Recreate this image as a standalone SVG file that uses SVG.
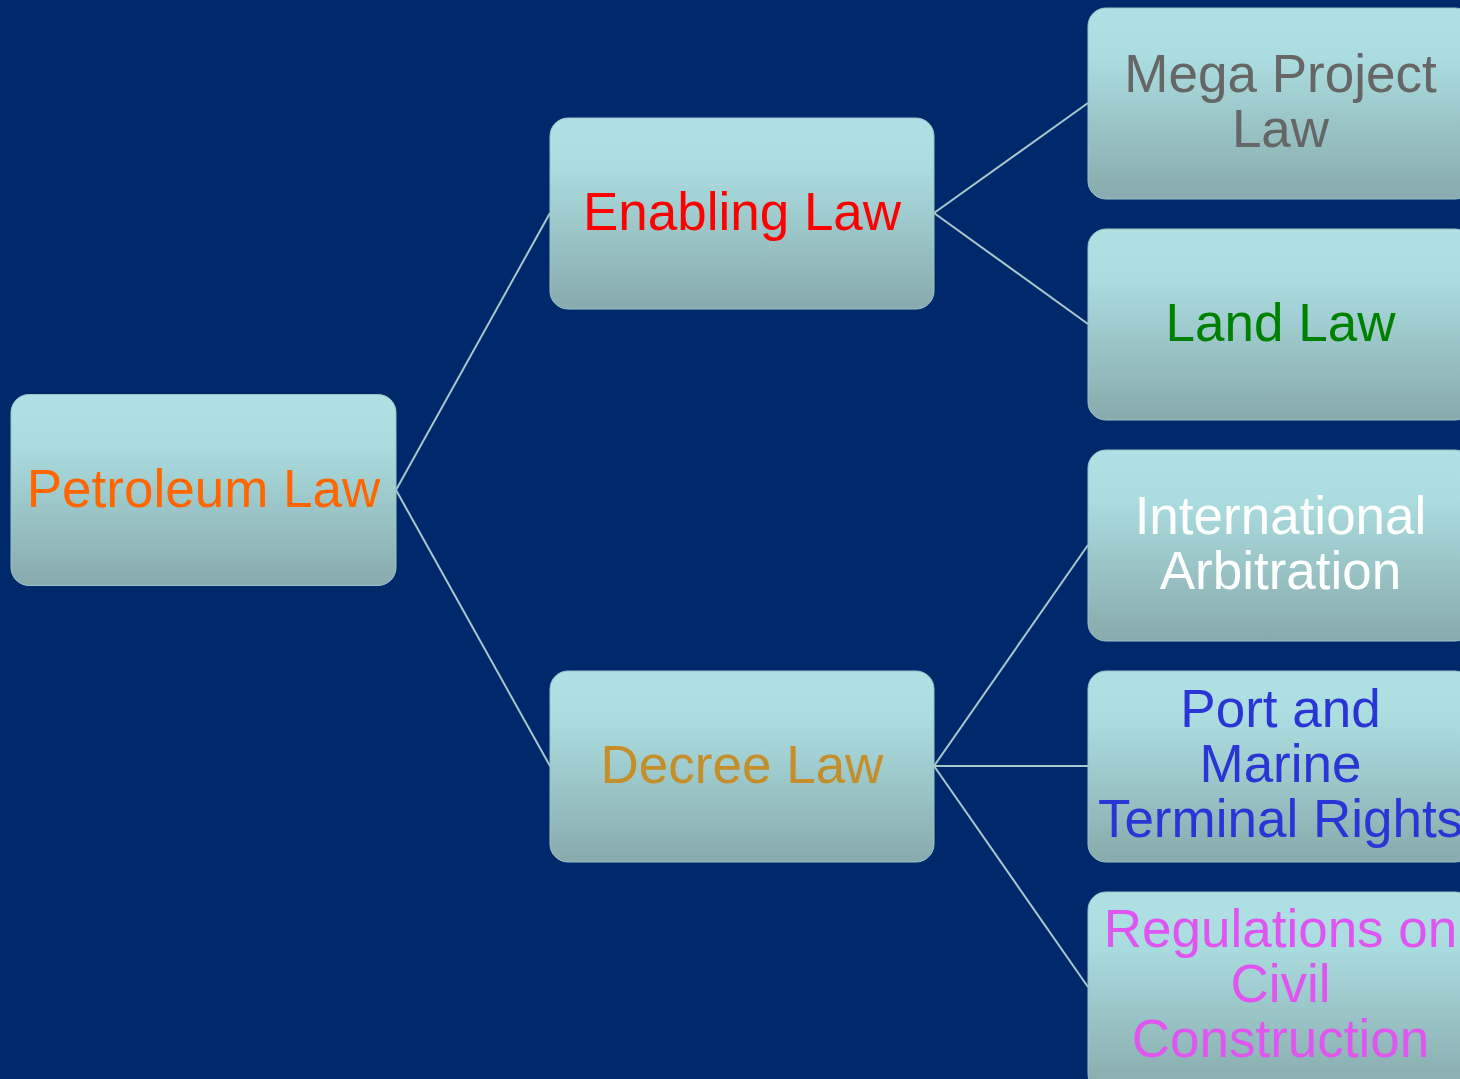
<svg xmlns="http://www.w3.org/2000/svg" width="1460" height="1079" viewBox="0 0 1460 1079">
<defs>
<linearGradient id="nodeFill" x1="0" y1="0" x2="0" y2="1">
<stop offset="0" stop-color="#B0E0E4"/>
<stop offset="0.25" stop-color="#ABDDE0"/>
<stop offset="1" stop-color="#88AAAC"/>
</linearGradient>
<style>
.node rect { fill: url(#nodeFill); stroke: #9CC4C8; stroke-width: 1; }
.node text { font-family: "Liberation Sans", Arial, sans-serif; font-size: 53px; text-anchor: middle; }
.conn line { stroke: #A8C8CC; stroke-width: 2; }
</style>
</defs>
<rect width="1460" height="1079" fill="#00296B"/>
<g id="connectors" class="conn">
<line x1="396" y1="490" x2="550" y2="213"/>
<line x1="396" y1="490" x2="550" y2="766"/>
<line x1="934" y1="213" x2="1088" y2="103"/>
<line x1="934" y1="213" x2="1088" y2="324"/>
<line x1="934" y1="766" x2="1088" y2="545"/>
<line x1="934" y1="766" x2="1088" y2="766"/>
<line x1="934" y1="766" x2="1088" y2="987"/>
</g>
<g id="petroleum-law" class="node">
<rect x="11" y="394.5" width="385" height="191" rx="18"/>
<text x="203.5" y="507" fill="#FF6600">Petroleum Law</text>
</g>
<g id="enabling-law" class="node">
<rect x="550" y="118" width="384" height="191" rx="18"/>
<text x="742" y="230" fill="#FF0000">Enabling Law</text>
</g>
<g id="decree-law" class="node">
<rect x="550" y="671" width="384" height="191" rx="18"/>
<text x="742" y="783" fill="#C48F2A">Decree Law</text>
</g>
<g id="mega-project-law" class="node">
<rect x="1088" y="8" width="385" height="191" rx="18"/>
<text x="1280.5" y="92" fill="#666666">Mega Project</text>
<text x="1280.5" y="147" fill="#666666">Law</text>
</g>
<g id="land-law" class="node">
<rect x="1088" y="229" width="385" height="191" rx="18"/>
<text x="1280.5" y="341" fill="#008000">Land Law</text>
</g>
<g id="international-arbitration" class="node">
<rect x="1088" y="450" width="385" height="191" rx="18"/>
<text x="1280.5" y="534" fill="#FFFFFF">International</text>
<text x="1280.5" y="589" fill="#FFFFFF">Arbitration</text>
</g>
<g id="port-marine" class="node">
<rect x="1088" y="671" width="385" height="191" rx="18"/>
<text x="1280.5" y="727" fill="#2A35D6">Port and</text>
<text x="1280.5" y="782" fill="#2A35D6">Marine</text>
<text x="1280.5" y="837" fill="#2A35D6">Terminal Rights</text>
</g>
<g id="regulations-civil" class="node">
<rect x="1088" y="892" width="385" height="200" rx="18"/>
<text x="1280.5" y="947" fill="#E055F0">Regulations on</text>
<text x="1280.5" y="1002" fill="#E055F0">Civil</text>
<text x="1280.5" y="1057" fill="#E055F0">Construction</text>
</g>
</svg>
